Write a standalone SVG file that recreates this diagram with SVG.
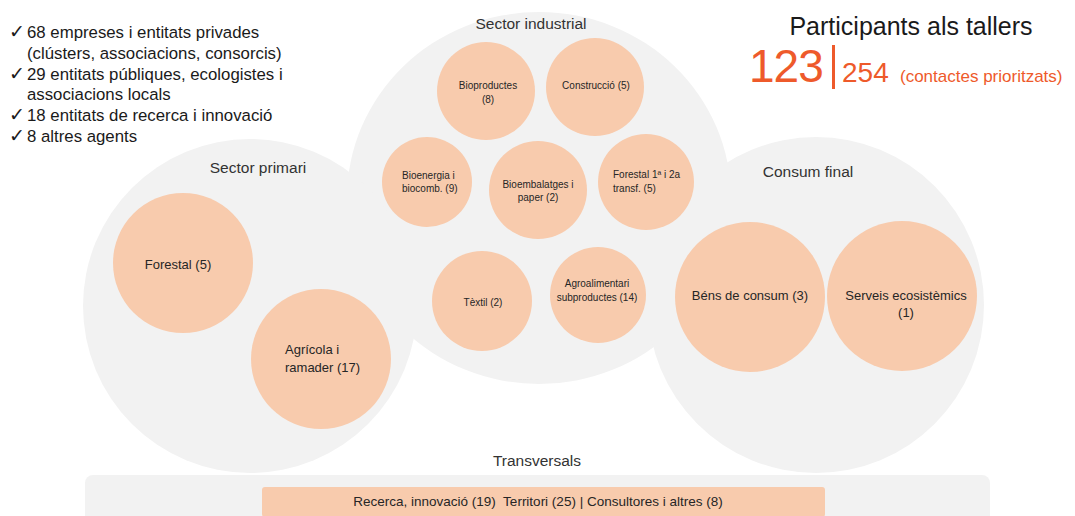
<svg xmlns="http://www.w3.org/2000/svg" width="1075" height="516" viewBox="0 0 1075 516">
<style>
.sector{fill:#f2f2f2}
.node{fill:#f8cbad}
.t{font-family:"Liberation Sans",Arial,sans-serif;fill:#262626}
.h{font-size:15.5px;text-anchor:middle;fill:#333}
.s{font-size:10px}
.m{font-size:13px}
.c{text-anchor:middle}
.list{font-family:"Liberation Sans",Arial,sans-serif;font-size:16.8px;fill:#1a1a1a}
.chk{font-family:"DejaVu Sans",sans-serif;font-size:19px;fill:#1a1a1a}
.or{font-family:"Liberation Sans",Arial,sans-serif;fill:#ee5a2b}
</style>
<rect width="1075" height="516" fill="#ffffff"/>

<g id="sectors">
<ellipse id="sector-industrial" class="sector" cx="539" cy="198" rx="192" ry="186"/>
<circle id="sector-primari" class="sector" cx="250" cy="306" r="167"/>
<circle id="consum-final" class="sector" cx="816" cy="305" r="168"/>
<rect id="transversals-panel" class="sector" x="85" y="475" width="905" height="50" rx="8"/>
</g>

<g id="headers">
<text class="t h" x="531" y="29">Sector industrial</text>
<text class="t h" x="258" y="173">Sector primari</text>
<text class="t h" x="808" y="177">Consum final</text>
<text class="t h" x="537" y="466">Transversals</text>
</g>

<g id="n-forestal"><circle class="node" cx="183" cy="263" r="70"/><text class="t m c" x="178" y="269">Forestal (5)</text></g>
<g id="n-agricola"><circle class="node" cx="321" cy="359" r="70"/><text class="t m" x="285" y="354">Agrícola i</text><text class="t m" x="285" y="372">ramader (17)</text></g>

<g id="n-bioproductes"><circle class="node" cx="486" cy="91" r="49"/><text class="t s c" x="488" y="89">Bioproductes</text><text class="t s c" x="488" y="103">(8)</text></g>
<g id="n-construccio"><circle class="node" cx="595" cy="87" r="49"/><text class="t s c" x="596" y="89">Construcció (5)</text></g>
<g id="n-bioenergia"><circle class="node" cx="427" cy="182" r="45"/><text class="t s" x="402" y="179">Bioenergia i</text><text class="t s" x="402" y="192">biocomb. (9)</text></g>
<g id="n-bioembalatges"><circle class="node" cx="538" cy="190" r="49"/><text class="t s c" x="538" y="188">Bioembalatges i</text><text class="t s c" x="538" y="201">paper (2)</text></g>
<g id="n-forestal12"><circle class="node" cx="646" cy="182" r="48"/><text class="t s" x="613" y="178">Forestal 1ª i 2a</text><text class="t s" x="613" y="192">transf. (5)</text></g>
<g id="n-textil"><circle class="node" cx="482" cy="301" r="50"/><text class="t s c" x="483" y="306">Tèxtil (2)</text></g>
<g id="n-agroalimentari"><circle class="node" cx="598" cy="295" r="48"/><text class="t s c" x="597" y="287">Agroalimentari</text><text class="t s c" x="597" y="301">subproductes (14)</text></g>

<g id="n-bens"><circle class="node" cx="750" cy="297" r="75"/><text class="t m c" x="750" y="300">Béns de consum (3)</text></g>
<g id="n-serveis"><circle class="node" cx="902" cy="296" r="75"/><text class="t m c" x="906" y="300">Serveis ecosistèmics</text><text class="t m c" x="906" y="317">(1)</text></g>

<g id="n-transversals"><rect class="node" x="262" y="487" width="563" height="30" rx="3"/><text class="t c" x="538" y="506" font-size="13.5px" xml:space="preserve">Recerca, innovació (19)  Territori (25) | Consultores i altres (8)</text></g>

<g id="connectors"></g>

<g id="list">
<text class="chk" x="9" y="38">✓</text><text class="list" x="27" y="38">68 empreses i entitats privades</text>
<text class="list" x="27" y="59">(clústers, associacions, consorcis)</text>
<text class="chk" x="9" y="80">✓</text><text class="list" x="27" y="80">29 entitats públiques, ecologistes i</text>
<text class="list" x="27" y="100">associacions locals</text>
<text class="chk" x="9" y="121">✓</text><text class="list" x="27" y="121">18 entitats de recerca i innovació</text>
<text class="chk" x="9" y="142">✓</text><text class="list" x="27" y="142">8 altres agents</text>
</g>

<g id="participants">
<text x="911" y="35" font-family="Liberation Sans, Arial, sans-serif" font-size="25" text-anchor="middle" fill="#1a1a1a">Participants als tallers</text>
<text class="or" x="749" y="82" font-size="46" letter-spacing="-1">123</text>
<rect x="832" y="45" width="3" height="44" fill="#ee5a2b"/>
<text class="or" x="842" y="82" font-size="28">254</text>
<text class="or" x="900" y="82" font-size="17" fill="#f26b3a">(contactes prioritzats)</text>
</g>
</svg>
